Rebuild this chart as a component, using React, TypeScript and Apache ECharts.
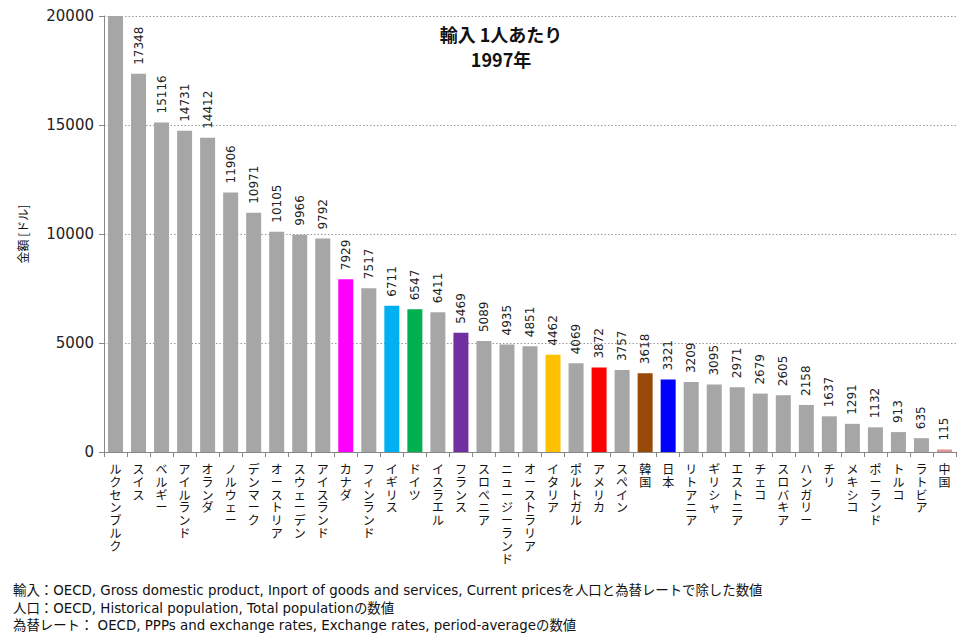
import React, { useEffect, useRef } from "react";
import * as echarts from "echarts";

const categories: string[] = [
  "ルクセンブルク", "スイス", "ベルギー", "アイルランド", "オランダ", "ノルウェー", "デンマーク",
  "オーストリア", "スウェーデン", "アイスランド", "カナダ", "フィンランド", "イギリス", "ドイツ",
  "イスラエル", "フランス", "スロベニア", "ニュージーランド", "オーストラリア", "イタリア",
  "ポルトガル", "アメリカ", "スペイン", "韓国", "日本", "リトアニア", "ギリシャ", "エストニア",
  "チェコ", "スロバキア", "ハンガリー", "チリ", "メキシコ", "ポーランド", "トルコ", "ラトビア", "中国",
];

const values: number[] = [
  26000, 17348, 15116, 14731, 14412, 11906, 10971, 10105, 9966, 9792, 7929, 7517, 6711, 6547,
  6411, 5469, 5089, 4935, 4851, 4462, 4069, 3872, 3757, 3618, 3321, 3209, 3095, 2971, 2679,
  2605, 2158, 1637, 1291, 1132, 913, 635, 115,
];

const highlight: Record<string, string> = {
  "カナダ": "#ff00ff",
  "イギリス": "#00b0f0",
  "ドイツ": "#00b050",
  "フランス": "#7030a0",
  "イタリア": "#ffc000",
  "アメリカ": "#ff0000",
  "韓国": "#984807",
  "日本": "#0000ff",
  "中国": "#d99694",
};

const yTicks = { min: 0, max: 20000, interval: 5000 };

const titleLines = ["輸入 1人あたり", "1997年"];
const yAxisName = "金額 [ドル]";
const footnotes = [
  "輸入：OECD, Gross domestic product, Inport of goods and services, Current pricesを人口と為替レートで除した数値",
  "人口：OECD, Historical population, Total populationの数値",
  "為替レート： OECD, PPPs and exchange rates, Exchange rates, period-averageの数値",
];

const JP = "'Noto Sans CJK JP', sans-serif";
const MIX = "'DejaVu Sans', 'Noto Sans CJK JP', sans-serif";
const NUM = "'DejaVu Sans', sans-serif";

export default function App() {
  const ref = useRef<HTMLDivElement>(null);
  useEffect(() => {
    if (!ref.current) return;
    const chart = echarts.init(ref.current, undefined, { renderer: "svg" });
    const data = values.map((v, i) => {
      const name = categories[i];
      const item: any = {
        value: v,
        itemStyle: { color: highlight[name] || "#a6a6a6" },
      };
      if (v > yTicks.max) item.label = { show: false };
      return item;
    });
    chart.setOption({
      animation: false,
      backgroundColor: "#ffffff",
      title: {
        text: titleLines.join("\n"),
        left: 496,
        top: 16,
        textAlign: "center",
        textStyle: {
          fontFamily: JP,
          fontSize: 18,
          fontWeight: "bold",
          lineHeight: 25,
          color: "#111",
        },
      },
      grid: { left: 104, right: 22, top: 16, bottom: 187, containLabel: false },
      xAxis: {
        type: "category",
        data: categories,
        axisLine: { lineStyle: { color: "#888" } },
        axisTick: { show: true, length: 5, lineStyle: { color: "#888" } },
        axisLabel: {
          interval: 0,
          margin: 10,
          fontFamily: JP,
          fontSize: 12,
          lineHeight: 12.8,
          color: "#111",
          formatter: (s: string) => s.split("").join("\n"),
        },
      },
      yAxis: {
        type: "value",
        min: yTicks.min,
        max: yTicks.max,
        interval: yTicks.interval,
        name: yAxisName,
        nameLocation: "middle",
        nameGap: 76,
        nameRotate: 90,
        nameTextStyle: { fontFamily: JP, fontSize: 12, color: "#111" },
        axisLine: { show: true, lineStyle: { color: "#888" } },
        axisTick: { show: true, length: 5, lineStyle: { color: "#888" } },
        axisLabel: {
          fontFamily: NUM,
          fontSize: 15,
          color: "#222",
          margin: 10,
          formatter: (v: number) => String(v),
        },
        splitLine: { show: true, lineStyle: { color: "#999", type: [1.5, 2] } },
      },
      series: [
        {
          type: "bar",
          data,
          barWidth: 15,
          clip: true,
          label: {
            show: true,
            position: "top",
            rotate: 90,
            align: "left",
            verticalAlign: "middle",
            distance: 9,
            fontFamily: NUM,
            fontSize: 12,
            color: "#222",
            formatter: (p: any) => String(p.value),
          },
        },
      ],
      graphic: footnotes.map((t, i) => ({
        type: "text",
        left: 13,
        top: 584 + i * 17.5,
        style: { text: t, font: `13.4px ${MIX}`, fill: "#111" },
      })),
    });
    return () => chart.dispose();
  }, []);
  return (
    <div
      ref={ref}
      style={{ position: "fixed", left: 0, top: 0, width: 978, height: 639 }}
    />
  );
}
